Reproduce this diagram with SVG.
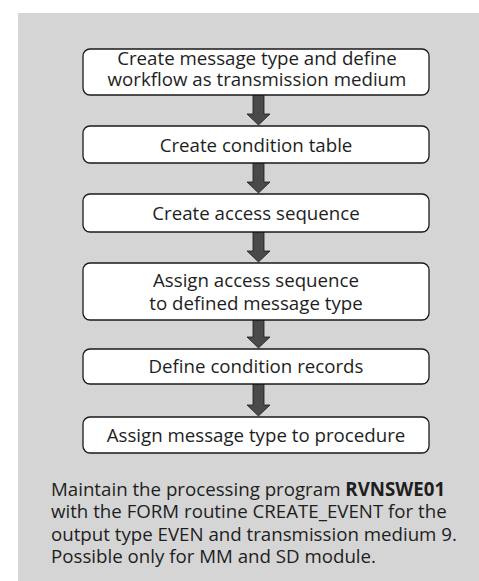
<svg xmlns="http://www.w3.org/2000/svg" width="479" height="581" viewBox="0 0 479 581">
  <style>
    .box { fill: #ffffff; stroke: #1a1a1a; stroke-width: 1.3; }
    .lbl { font-family: "Open Sans", "Noto Sans", sans-serif; font-size: 18.7px; fill: #1e1e1e; text-anchor: middle; }
    .note { font-family: "Open Sans", "Noto Sans", sans-serif; font-size: 18.7px; fill: #1e1e1e; }
    .arrow { fill: #4a4a4a; stroke: #1a1a1a; stroke-width: 0.8; stroke-linejoin: miter; }
  </style>

  <!-- panel -->
  <rect x="18" y="13" width="461" height="568" fill="#d5d5d5"/>

  <!-- block arrows between the steps -->
  <g id="connectors">
    <path class="arrow" d="M253 95 L264 95 L264 114 L270 114 L258.5 125 L247 114 L253 114 Z"/>
    <path class="arrow" d="M253 163 L264 163 L264 182 L270 182 L258.5 193 L247 182 L253 182 Z"/>
    <path class="arrow" d="M253 232 L264 232 L264 251 L270 251 L258.5 262 L247 251 L253 251 Z"/>
    <path class="arrow" d="M253 320 L264 320 L264 337 L270 337 L258.5 348 L247 337 L253 337 Z"/>
    <path class="arrow" d="M253 384 L264 384 L264 405 L270 405 L258.5 416 L247 405 L253 405 Z"/>
  </g>

  <g id="step1">
    <rect class="box" x="83" y="49" width="346" height="46" rx="7"/>
    <text class="lbl" x="257" y="65">Create message type and define</text>
    <text class="lbl" x="257" y="86">workflow as transmission medium</text>
  </g>
  <g id="step2">
    <rect class="box" x="83" y="126" width="346" height="37" rx="7"/>
    <text class="lbl" x="256" y="152">Create condition table</text>
  </g>
  <g id="step3">
    <rect class="box" x="83" y="194" width="346" height="38" rx="7"/>
    <text class="lbl" x="256" y="220">Create access sequence</text>
  </g>
  <g id="step4">
    <rect class="box" x="83" y="263" width="346" height="57" rx="7"/>
    <text class="lbl" x="256" y="287">Assign access sequence</text>
    <text class="lbl" x="256" y="310">to defined message type</text>
  </g>
  <g id="step5">
    <rect class="box" x="83" y="349" width="346" height="35" rx="7"/>
    <text class="lbl" x="256" y="373">Define condition records</text>
  </g>
  <g id="step6">
    <rect class="box" x="83" y="417" width="346" height="36" rx="7"/>
    <text class="lbl" x="256" y="442">Assign message type to procedure</text>
  </g>

  <g id="note">
    <text class="note" x="51" y="496">Maintain the processing program <tspan font-weight="bold">RVNSWE01</tspan></text>
    <text class="note" x="51" y="518">with the FORM routine CREATE_EVENT for the</text>
    <text class="note" x="51" y="541">output type EVEN and transmission medium 9.</text>
    <text class="note" x="51" y="563">Possible only for MM and SD module.</text>
  </g>
</svg>
